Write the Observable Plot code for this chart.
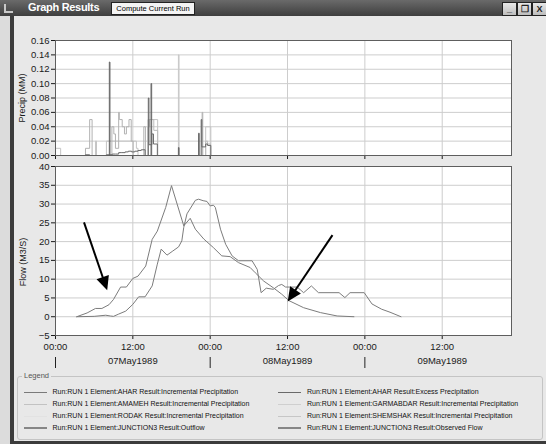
<!DOCTYPE html>
<html><head><meta charset="utf-8">
<script src="https://cdn.jsdelivr.net/npm/d3@7"></script>
<script src="https://cdn.jsdelivr.net/npm/@observablehq/plot@0.6"></script>
<style>
html,body{margin:0;padding:0;}
body{width:546px;height:444px;overflow:hidden;background:#e0e0e0;font-family:"Liberation Sans",Arial,sans-serif;}
#win{position:relative;width:546px;height:444px;background:#e8e8e8;overflow:hidden;}
.abs{position:absolute;}
.lg-row{position:absolute;font-size:7px;color:#111;white-space:nowrap;line-height:8px;}
.lg-line{position:absolute;height:1px;}
.ctl{position:absolute;top:2px;width:13px;height:12px;background:linear-gradient(#e8e8e8,#bdbdbd);border:1px solid #222;font:bold 9px "Liberation Sans";line-height:12px;text-align:center;color:#222;}
</style></head><body>
<div id="win">
  <div class="abs" style="left:0;top:16px;width:10px;height:428px;background:#dcdcdc"></div>
  <div class="abs" style="left:10px;top:16px;width:4px;height:428px;background:#3c3c3c"></div>
  <div class="abs" style="left:10px;top:441px;width:536px;height:3px;background:#3c3c3c"></div>
  <div id="precip" class="abs" style="left:0;top:0"></div>
  <div id="flow" class="abs" style="left:0;top:160px"></div>
  <div class="abs" style="left:0;top:0;width:546px;height:16px;background:linear-gradient(#6a6a6a,#3e3e3e)"></div>
  <div class="abs" style="left:4px;top:4px;width:7px;height:7px;border-left:2px solid #c8c8c8;border-bottom:2px solid #c8c8c8"></div>
  <div class="abs" style="left:28px;top:1px;color:#fff;font:bold 11px 'Liberation Sans';letter-spacing:-0.3px">Graph Results</div>
  <div class="abs" style="left:111px;top:2px;width:82px;height:11px;background:#f4f4f4;border:1px solid #222;font:7.5px 'Liberation Sans';line-height:11px;text-align:center;color:#000">Compute Current Run</div>
  <div class="ctl" style="left:502px">_</div>
  <div class="ctl" style="left:517px">&#x2750;</div>
  <div class="ctl" style="left:532px">X</div>
  <div id="legend" class="abs" style="left:17px;top:376px;width:524px;height:62px;border:1px solid #c4c4c4;border-radius:3px"></div>
  <div class="abs" style="left:22px;top:371px;padding:0 2px;background:#e8e8e8;font-size:7.5px;color:#555">Legend</div>
</div>
<script>
// ---- time axis ----
const startMs = Date.UTC(1989, 4, 7);
const endHour = 70.75;
const tickHours = [0, 12, 24, 36, 48, 60];
const tickLabels = ["00:00", "12:00", "00:00", "12:00", "00:00", "12:00"];
const dayHours = [0, 24, 48];
const dateHours = [12, 36, 60];
const dateLabels = ["07May1989", "08May1989", "09May1989"];

// ---- precipitation (MM), step series ----
const precipTicks = [0, 0.02, 0.04, 0.06, 0.08, 0.10, 0.12, 0.14, 0.16];
const aharIncHours  = [0, 8.35, 8.45, 14.82, 14.92, 19.07, 19.17, 22.2, 22.3, 24];
const aharIncValues = [0, 0.13, 0, 0.10, 0, 0.011, 0, 0.031, 0, 0];
const aharExcHours  = [0, 4.65, 5.3, 7.9, 8.8, 9.3, 9.8, 10.3, 10.8, 11.3, 11.8, 12.3, 12.8, 13.3, 13.9, 14.4, 14.5, 14.95, 15.2, 15.8, 22.6, 22.7, 23.3, 23.6, 24.1];
const aharExcValues = [0, 0.001, 0, 0.001, 0.002, 0.002, 0.004, 0.004, 0.005, 0.006, 0.005, 0.006, 0.007, 0.008, 0, 0.08, 0.015, 0.03, 0.016, 0, 0.05, 0.012, 0.016, 0.014, 0];
const amamehHours   = [0, 4.65, 5.3, 5.68, 8.75, 9.05, 9.3, 9.8, 9.9, 10.35, 10.7, 11.0, 11.4, 11.75, 12.05, 13.7, 13.95, 22.75, 22.85];
const amamehValues  = [0, 0.01, 0.05, 0, 0.04, 0.03, 0.01, 0.06, 0.05, 0.04, 0.03, 0.04, 0.05, 0.02, 0, 0.04, 0, 0.06, 0];
const rodakHours    = [0, 19.07, 19.17];
const rodakValues   = [0, 0.14, 0];
const garmaHours    = [0, 0.8, 6.2, 6.36, 7.9, 12.05, 12.55, 12.8, 14.35, 15.85, 23.3, 24.1];
const garmaValues   = [0.01, 0, 0.02, 0, 0.02, 0.02, 0.01, 0, 0.05, 0, 0.04, 0];
const shemHours     = [0, 14.35, 14.6, 15.25, 15.85, 23.3, 23.6, 24.05];
const shemValues    = [0, 0.04, 0.05, 0.035, 0, 0.02, 0.016, 0];

// ---- flow (M3/S) ----
const flowTicks = [-5, 0, 5, 10, 15, 20, 25, 30, 35, 40];
const outflowHours  = [3.3, 4.9, 6.2, 7.2, 8.3, 9.0, 10.1, 11.0, 12.0, 12.8, 14.0, 15.0, 15.8, 17.1, 18.0, 19.9, 20.9, 21.7, 23.0, 24.5, 25.8, 27.1, 28.4, 30.2, 31.0, 32.3, 33.8, 35.1, 36.2, 38.5, 41.1, 43.7, 46.3];
const outflowValues = [0, 1.0, 2.2, 2.2, 3.2, 4.6, 7.9, 7.9, 10.2, 10.8, 13.5, 20.6, 22.8, 29.1, 34.9, 24.2, 26.2, 23.3, 20.7, 18.4, 16.2, 16.0, 14.4, 13.1, 11.7, 9.5, 7.7, 6.0, 4.3, 2.4, 1.1, 0.2, 0];
const observedHours  = [3.3, 6.0, 7.8, 8.5, 9.0, 9.8, 10.9, 12.0, 12.9, 13.9, 15.0, 15.8, 16.4, 17.3, 18.2, 19.1, 19.6, 19.9, 20.4, 21.7, 22.2, 22.9, 23.5, 24.0, 24.5, 24.8, 25.6, 26.4, 27.4, 28.4, 30.5, 31.3, 31.9, 32.7, 33.8, 34.6, 35.1, 35.7, 37.5, 38.5, 39.7, 40.8, 44.0, 44.9, 45.7, 47.9, 49.1, 50.6, 51.9, 53.6];
const observedValues = [0, 0.1, 0.4, 0.2, 0.1, 0.7, 1.5, 3.3, 5.3, 5.3, 8.2, 14.0, 18.0, 16.4, 17.5, 18.6, 20.2, 23.8, 27.4, 31.0, 31.3, 30.9, 30.7, 29.5, 29.7, 29.1, 23.3, 19.3, 16.2, 14.9, 14.9, 12.6, 6.4, 7.6, 7.3, 8.3, 8.6, 7.9, 7.9, 6.4, 8.2, 6.4, 6.4, 5.1, 6.4, 6.4, 3.4, 2.0, 1.2, 0];

// ---- annotation arrows ----
const arrowStartHours = [4.5, 43.05];
const arrowStartFlow  = [25.0, 21.6];
const arrowTipHours   = [8.1, 36.1];
const arrowTipFlow    = [6.9, 3.9];

// ---- legend ----
const legendNames = [
  "Run:RUN 1 Element:AHAR Result:Incremental Precipitation",
  "Run:RUN 1 Element:AMAMEH Result:Incremental Precipitation",
  "Run:RUN 1 Element:RODAK Result:Incremental Precipitation",
  "Run:RUN 1 Element:JUNCTION3 Result:Outflow",
  "Run:RUN 1 Element:AHAR Result:Excess Precipitation",
  "Run:RUN 1 Element:GARMABDAR Result:Incremental Precipitation",
  "Run:RUN 1 Element:SHEMSHAK Result:Incremental Precipitation",
  "Run:RUN 1 Element:JUNCTION3 Result:Observed Flow"
];
const legendColors = ["#7a7a7a", "#c2c2c2", "#e2e2e2", "#868686", "#6a6a6a", "#cfcfcf", "#c6c6c6", "#868686"];
const legendWidths = [1, 1, 1, 2, 1, 1, 1, 2];

// ---- build ----
const toDate = h => new Date(startMs + h * 3600e3);
const xDomain = [toDate(0), toDate(endHour)];
const tickTimes = tickHours.map(toDate);
const dayTimes = dayHours.map(toDate);
const dateTimes = dateHours.map(toDate);
const hourOf = d => Math.round((+d - startMs) / 3600e3);
const rows = (hs, vs) => hs.map((h, i) => ({t: toDate(h), v: vs[i]}));

const precipSeries = [
  {rows: rows(garmaHours, garmaValues), color: "#c4c4c4"},
  {rows: rows(shemHours, shemValues), color: "#bcbcbc"},
  {rows: rows(amamehHours, amamehValues), color: "#b2b2b2"},
  {rows: rows(rodakHours, rodakValues), color: "#c8c8c8"},
  {rows: rows(aharExcHours, aharExcValues), color: "#6a6a6a"},
  {rows: rows(aharIncHours, aharIncValues), color: "#666666"}
];

const svgStyle = {background: "transparent", fontFamily: "'Liberation Sans', Arial, sans-serif", fontSize: "9.5px", color: "#1a1a1a", overflow: "visible"};
const gridStyle = {stroke: "#cdcdcd", strokeOpacity: 1};

const precipPlot = Plot.plot({
  width: 546, height: 160,
  marginLeft: 55, marginRight: 35, marginTop: 40, marginBottom: 5,
  style: svgStyle,
  x: {type: "utc", domain: xDomain, label: null},
  y: {domain: [0, 0.16], label: null},
  marks: [
    Plot.frame({fill: "white"}),
    Plot.gridY(precipTicks, gridStyle),
    Plot.gridX(tickTimes, gridStyle),
    ...precipSeries.map(s => Plot.line(s.rows, {x: "t", y: "v", curve: "step-after", stroke: s.color, strokeWidth: 1})),
    Plot.axisY(precipTicks, {tickSize: 4, tickPadding: 2, tickFormat: d => d.toFixed(2), label: null}),
    Plot.axisX(tickTimes, {tickSize: 4, tickFormat: () => "", label: null}),
    Plot.text(["Precip (MM)"], {frameAnchor: "left", rotate: -90, textAnchor: "middle", dx: -33, fontSize: 9}),
    Plot.frame({stroke: "#5e5e5e"})
  ]
});
document.getElementById("precip").appendChild(precipPlot);

function arrowsMark(index, scales) {
  const g = d3.create("svg:g");
  for (let i = 0; i < arrowTipHours.length; i++) {
    const x1 = scales.x(toDate(arrowStartHours[i])), y1 = scales.y(arrowStartFlow[i]);
    const x2 = scales.x(toDate(arrowTipHours[i])), y2 = scales.y(arrowTipFlow[i]);
    const dx = x2 - x1, dy = y2 - y1, len = Math.hypot(dx, dy);
    const ux = dx / len, uy = dy / len, L = 14, W = 6.5;
    const bx = x2 - ux * L, by = y2 - uy * L;
    g.append("line").attr("x1", x1).attr("y1", y1).attr("x2", bx + ux).attr("y2", by + uy)
      .attr("stroke", "#000").attr("stroke-width", 2);
    g.append("path").attr("d", `M${x2},${y2}L${bx - uy * W},${by + ux * W}L${bx + uy * W},${by - ux * W}Z`)
      .attr("fill", "#000");
  }
  return g.node();
}

const flowPlot = Plot.plot({
  width: 546, height: 215,
  marginLeft: 55, marginRight: 35, marginTop: 6, marginBottom: 40,
  style: svgStyle,
  x: {type: "utc", domain: xDomain, label: null},
  y: {domain: [-5, 40], label: null},
  marks: [
    Plot.frame({fill: "white"}),
    Plot.gridY(flowTicks, gridStyle),
    Plot.gridX(tickTimes, gridStyle),
    Plot.line(rows(outflowHours, outflowValues), {x: "t", y: "v", stroke: "#7c7c7c", strokeWidth: 1}),
    Plot.line(rows(observedHours, observedValues), {x: "t", y: "v", stroke: "#7c7c7c", strokeWidth: 1}),
    arrowsMark,
    Plot.axisY(flowTicks, {tickSize: 4, tickPadding: 2, label: null}),
    Plot.axisX(tickTimes, {tickSize: 4, tickPadding: 4, tickFormat: d => tickLabels[tickHours.indexOf(hourOf(d))], label: null}),
    Plot.axisX(dateTimes, {tickSize: 0, tickPadding: 22, tickFormat: d => dateLabels[dateHours.indexOf(hourOf(d))], label: null}),
    Plot.axisX(dayTimes, {tickSize: 11, dy: 22, tickFormat: () => "", stroke: "#222", label: null}),
    Plot.text(["Flow (M3/S)"], {frameAnchor: "left", rotate: -90, textAnchor: "middle", dx: -32, dy: 11, fontSize: 9}),
    Plot.frame({stroke: "#5e5e5e"})
  ]
});
document.getElementById("flow").appendChild(flowPlot);

// legend rows
const win = document.getElementById("win");
legendNames.forEach((name, i) => {
  const col = i < 4 ? 0 : 1, row = i % 4;
  const top = 392 + row * 12.1;
  const line = document.createElement("div");
  line.className = "lg-line";
  line.style.left = (col ? 278 : 24) + "px";
  line.style.width = "23px";
  line.style.top = (top - legendWidths[i] / 2) + "px";
  line.style.height = legendWidths[i] + "px";
  line.style.background = legendColors[i];
  win.appendChild(line);
  const txt = document.createElement("div");
  txt.className = "lg-row";
  txt.style.left = (col ? 307 : 52.5) + "px";
  txt.style.top = (top - 4) + "px";
  txt.textContent = name;
  win.appendChild(txt);
});
</script>
</body></html>
